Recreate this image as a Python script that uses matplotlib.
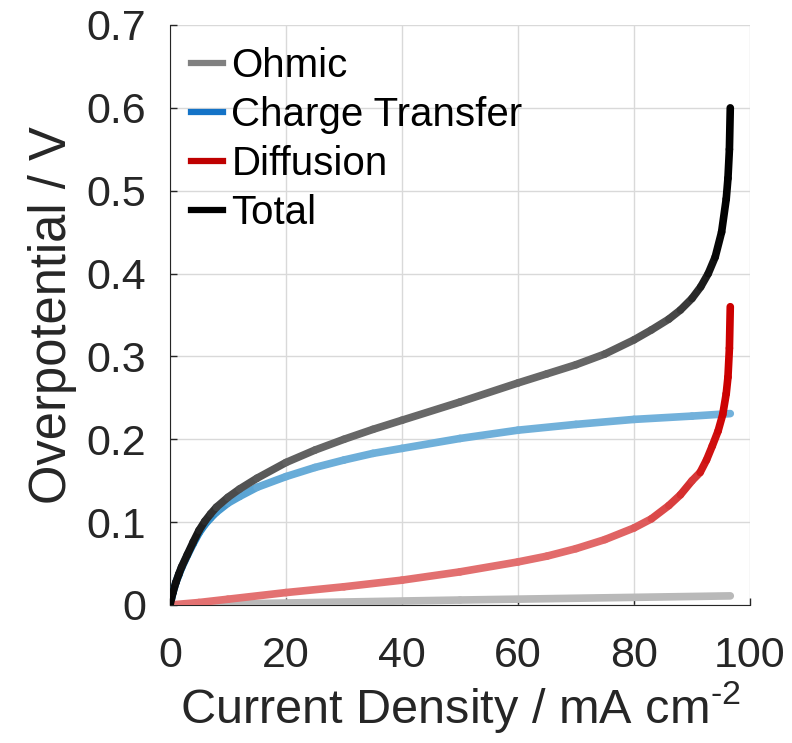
import numpy as np
import matplotlib
matplotlib.use("Agg")
import matplotlib.pyplot as plt
from matplotlib.collections import LineCollection
from matplotlib.lines import Line2D

plt.rcParams['font.family'] = ['Liberation Sans', 'DejaVu Sans']
plt.rcParams['mathtext.fontset'] = 'custom'
plt.rcParams['mathtext.rm'] = 'Liberation Sans'

# valeurs
x_ohm = [0, 50, 96.6]
y_ohm = [0, 0.006, 0.011]

x_ct = [0, 0.5, 1, 1.5, 2, 3, 4, 5, 6, 7, 8, 10, 12, 15, 20, 25, 30, 35, 40, 50, 60, 70,
        80, 90, 96.6]
y_ct = [0, 0.015, 0.027, 0.036, 0.045, 0.060, 0.074, 0.087, 0.097, 0.105, 0.112, 0.123,
        0.131, 0.142, 0.155, 0.166, 0.175, 0.183, 0.189, 0.201, 0.211, 0.218, 0.224, 0.228,
        0.231]

x_diff = [0, 5, 10, 20, 30, 40, 50, 60, 65, 70, 75, 80, 83, 86, 88, 90, 91.4, 92.5, 93.5,
          94.5, 95.3, 95.9, 96.2, 96.45, 96.6]
y_diff = [0, 0.003, 0.007, 0.015, 0.022, 0.030, 0.040, 0.052, 0.059, 0.068, 0.079, 0.093,
          0.104, 0.120, 0.133, 0.150, 0.160, 0.175, 0.192, 0.210, 0.230, 0.255, 0.275, 0.31,
          0.36]

x_tot = [0, 0.5, 1, 1.5, 2, 3, 4, 5, 6, 7, 8, 10, 12, 15, 20, 25, 30, 35, 40, 50, 60, 65,
         70, 75, 80, 83, 86, 88, 90, 91.5, 92.8, 94, 95.1, 95.9, 96.2, 96.45, 96.6]
y_tot = [0, 0.015, 0.027, 0.037, 0.046, 0.061, 0.076, 0.090, 0.101, 0.110, 0.118, 0.130,
         0.140, 0.153, 0.172, 0.187, 0.200, 0.212, 0.223, 0.245, 0.268, 0.279, 0.290, 0.303,
         0.320, 0.332, 0.345, 0.356, 0.370, 0.384, 0.400, 0.420, 0.450, 0.490, 0.515, 0.55,
         0.60]

noms = ["Ohmic", "Charge Transfer", "Diffusion", "Total"]
couleurs = [(0.5, 0.5, 0.5), (0.0, 0.447, 0.741), (0.8, 0.0, 0.0), (0.0, 0.0, 0.0)]
legend_couleurs = [(0.5, 0.5, 0.5), (0.08, 0.45, 0.78), (0.75, 0.0, 0.0), (0.0, 0.0, 0.0)]

fig = plt.figure(figsize=(7.92, 7.43), dpi=100)
ax = fig.add_axes([170/792, 138/743, 580/792, 580/743])
ax.set_xlim(0, 100)
ax.set_ylim(0, 0.7)


def trace(ax, x, y, c):
    # couleur plus foncée là où la courbe est raide (points qui se superposent)
    pts = ax.transData.transform(np.column_stack([x, y]))
    segs = []
    cols = []
    for i in range(len(x) - 1):
        dx, dy = pts[i+1] - pts[i]
        s2 = dy**2 / (dx**2 + dy**2 + 1e-9)
        a = min(1.0, 0.55 + 0.45*s2)
        cols.append(tuple(a*np.array(c) + (1-a)))
        segs.append([(x[i], y[i]), (x[i+1], y[i+1])])
    lc = LineCollection(segs, colors=cols, linewidths=5.5, capstyle='round', joinstyle='round', zorder=3)
    ax.add_collection(lc)


trace(ax, x_ohm, y_ohm, couleurs[0])
trace(ax, x_ct, y_ct, couleurs[1])
trace(ax, x_diff, y_diff, couleurs[2])
trace(ax, x_tot, y_tot, couleurs[3])

ax.set_xticks([0, 20, 40, 60, 80, 100])
ax.set_yticks([0, 0.1, 0.2, 0.3, 0.4, 0.5, 0.6, 0.7])
ax.set_yticklabels(["0", "0.1", "0.2", "0.3", "0.4", "0.5", "0.6", "0.7"])
ax.tick_params(axis='both', direction='in', length=5, width=1, colors='0.15', labelsize=31)
ax.tick_params(axis='y', pad=17)
ax.tick_params(axis='x', pad=22)
ax.grid(True, color='0.85', linewidth=1)
ax.set_axisbelow(True)
ax.spines['top'].set_visible(False)
ax.spines['right'].set_visible(False)
ax.spines['left'].set_color('0.15')
ax.spines['bottom'].set_color('0.15')

ax.set_xlabel("Current Density / mA cm$^{\\mathregular{\u20102}}$", fontsize=35, color='0.15', labelpad=3)
ax.set_ylabel("Overpotential / V", fontsize=36.5, color='0.15', labelpad=7)

handles = [Line2D([], [], color=c, linewidth=4.5) for c in legend_couleurs]
ax.legend(handles, noms, loc='upper left', frameon=False, fontsize=29,
          handlelength=0.8, handletextpad=0.2, labelspacing=0.27,
          borderpad=0.2, borderaxespad=0.25, bbox_to_anchor=(0.005, 0.993))

fig.savefig("out.png", dpi=100)
